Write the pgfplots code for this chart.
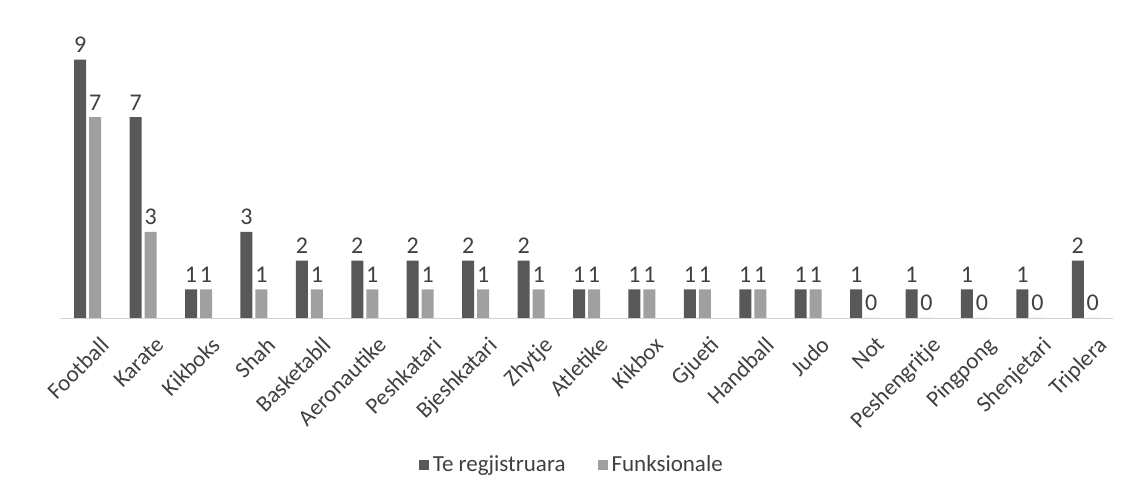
\documentclass[border=0pt]{standalone}
\usepackage{pgfplots}
\pgfplotsset{compat=1.18}
\usepackage{fontspec}
\setmainfont{Carlito}
\definecolor{darkbar}{HTML}{585858}
\definecolor{lightbar}{HTML}{A0A0A0}
\definecolor{txt}{HTML}{404040}
\begin{document}
\begin{tikzpicture}
\path[use as bounding box] (0,0) rectangle (566.5pt,251pt);
\begin{axis}[
 at={(30pt,92pt)}, anchor=south west,
 scale only axis, width=526.5pt, height=143.5pt,
 ybar=1.5pt, bar width=6pt,
 xmin=-0.5, xmax=18.5, ymin=0, ymax=10,
 xtick={0,...,18},
 xticklabels={Football,Karate,Kikboks,Shah,Basketabll,Aeronautike,Peshkatari,Bjeshkatari,Zhytje,Atletike,Kikbox,Gjueti,Handball,Judo,Not,Peshengritje,Pingpong,Shenjetari,Triplera},
 x tick label style={rotate=45, anchor=north east, font=\fontsize{11.5}{13}\selectfont, text=txt, inner sep=1pt, xshift=-1pt, yshift=-9pt},
 major tick length=0,
 axis x line*=bottom, axis y line=none,
 x axis line style={gray!35, -},
 ytick=\empty,
 clip=false,
 nodes near coords,
 nodes near coords style={font=\fontsize{12}{14}\selectfont, text=txt},
 /pgf/number format/assume math mode=true,
 legend columns=2,
 legend style={at={(axis description cs:0.487,-0.512)}, anchor=center, draw=none, fill=none,
   font=\fontsize{11.5}{13}\selectfont, text=txt,
   /tikz/every even column/.append style={column sep=14pt}},
 legend image code/.code={\fill[#1] (0pt,-2.5pt) rectangle (5pt,2.5pt);},
]
\addplot[draw=none, fill=darkbar] coordinates {
 (0,9) (1,7) (2,1) (3,3) (4,2) (5,2) (6,2) (7,2) (8,2) (9,1)
 (10,1) (11,1) (12,1) (13,1) (14,1) (15,1) (16,1) (17,1) (18,2)};
\addplot[draw=none, fill=lightbar] coordinates {
 (0,7) (1,3) (2,1) (3,1) (4,1) (5,1) (6,1) (7,1) (8,1) (9,1)
 (10,1) (11,1) (12,1) (13,1) (14,0) (15,0) (16,0) (17,0) (18,0)};
\legend{Te regjistruara, Funksionale}
\end{axis}
\end{tikzpicture}
\end{document}
